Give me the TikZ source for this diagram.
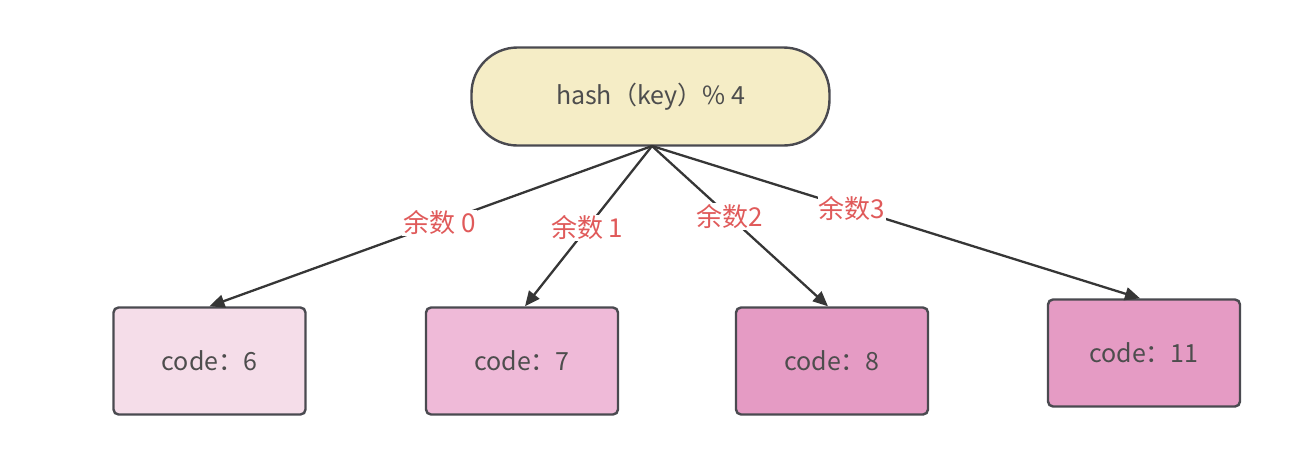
\documentclass[tikz,border=0pt]{standalone}
\usepackage{fontspec}
\setmainfont{Noto Sans CJK SC}
\usetikzlibrary{arrows.meta}
\definecolor{topfill}{HTML}{F5EDC6}
\definecolor{linec}{HTML}{363636}
\definecolor{boxline}{HTML}{4A4A50}
\definecolor{txt}{HTML}{4D4D4D}
\definecolor{lab}{HTML}{E05A5A}
\definecolor{fa}{HTML}{F5DDE9}
\definecolor{fb}{HTML}{EFBAD8}
\definecolor{fc}{HTML}{E59BC4}
\tikzset{
  codebox/.style={draw=boxline, line width=2.4pt, rounded corners=5pt, minimum width=192pt, minimum height=107pt, inner sep=0pt, text=txt, font=\fontsize{25}{28}\selectfont},
  conn/.style={draw=linec, line width=2.3pt, -{Triangle[length=15pt,width=13pt]}},
  lbl/.style={fill=white, text=lab, inner sep=1pt, font=\fontsize{26}{28}\selectfont}
}
\begin{document}
\begin{tikzpicture}[x=1pt,y=-1pt]
\useasboundingbox (0,0) rectangle (1304,464);
\node[draw=boxline, line width=2.4pt, fill=topfill, rounded corners=46pt, minimum width=358pt, minimum height=98pt, inner sep=0pt, text=txt, font=\fontsize{25}{28}\selectfont] (top) at (650.5,96.5) {\raisebox{-3pt}{hash（key）\% 4}};
\node[codebox, fill=fa] (c6) at (209.5,361) {code：6};
\node[codebox, fill=fb] (c7) at (522,361) {code：7};
\node[codebox, fill=fc] (c8) at (832,361) {code：8};
\node[codebox, fill=fc] (c11) at (1144,353) {code：11};
\coordinate (s) at (652,146);
\draw[conn] (s) -- (c6.north) node[lbl, pos=0.48] {余数 0};
\draw[conn] (s) -- ([xshift=3pt]c7.north) node[lbl, pos=0.51] {余数 1};
\draw[conn] (s) -- ([xshift=-4pt]c8.north) node[lbl, pos=0.44] {余数2};
\draw[conn] (s) -- ([xshift=-4pt]c11.north) node[lbl, pos=0.41] {余数3};
\end{tikzpicture}
\end{document}
